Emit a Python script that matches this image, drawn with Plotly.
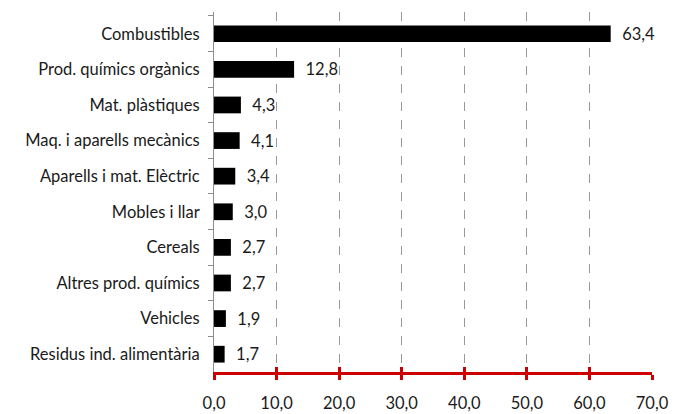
import plotly.graph_objects as go

categories = ["Combustibles", "Prod. químics orgànics", "Mat. plàstiques",
              "Maq. i aparells mecànics", "Aparells i mat. Elèctric", "Mobles i llar",
              "Cereals", "Altres prod. químics", "Vehicles", "Residus ind. alimentària"]
values = [63.4, 12.8, 4.3, 4.1, 3.4, 3.0, 2.7, 2.7, 1.9, 1.7]
x_ticks = [0, 10, 20, 30, 40, 50, 60, 70]

font = dict(family="Lato, Open Sans, sans-serif", size=16.5, color="#1a1a1a")

fig = go.Figure()

fig.add_trace(go.Bar(
    y=categories,
    x=values,
    orientation="h",
    marker=dict(color="black", line=dict(width=0)),
    texttemplate="  %{x:.1f}",
    textposition="outside",
    textfont=font,
    constraintext="none",
    cliponaxis=False,
    showlegend=False,
))

# invisible trace on the second x axis so its ticks show
fig.add_trace(go.Scatter(x=[0, 70], y=[categories[0], categories[0]], xaxis="x2",
                         mode="markers", marker=dict(opacity=0), showlegend=False,
                         hoverinfo="skip"))

# page body has an 8px margin, so the margins below are shifted by it
fig.update_layout(
    width=682, height=414,
    margin=dict(l=206, r=38, t=4, b=50),
    plot_bgcolor="white", paper_bgcolor="white",
    separators=",.",
    font=font,
    bargap=0.53,
    xaxis=dict(
        range=[0, 70], tickvals=x_ticks, tickformat=".1f",
        showgrid=True, gridcolor="#999999", griddash="dash", gridwidth=1,
        showline=True, linecolor="#cc0000", linewidth=3,
        ticks="outside", ticklen=5, tickwidth=3, tickcolor="#cc0000",
        ticklabelstandoff=9, zeroline=False,
    ),
    xaxis2=dict(
        range=[0, 70], tickvals=x_ticks, overlaying="x", side="bottom", anchor="y",
        showticklabels=False, showgrid=False, ticks="inside", ticklen=5,
        tickwidth=3, tickcolor="#cc0000", zeroline=False,
    ),
    yaxis=dict(
        autorange="reversed", categoryorder="array", categoryarray=categories,
        showline=True, linecolor="#8c8c8c", linewidth=1,
        ticks="outside", ticklen=5, tickcolor="#8c8c8c", tickson="boundaries",
        ticklabelstandoff=10, showgrid=False,
    ),
)

fig.write_html("out.html")
